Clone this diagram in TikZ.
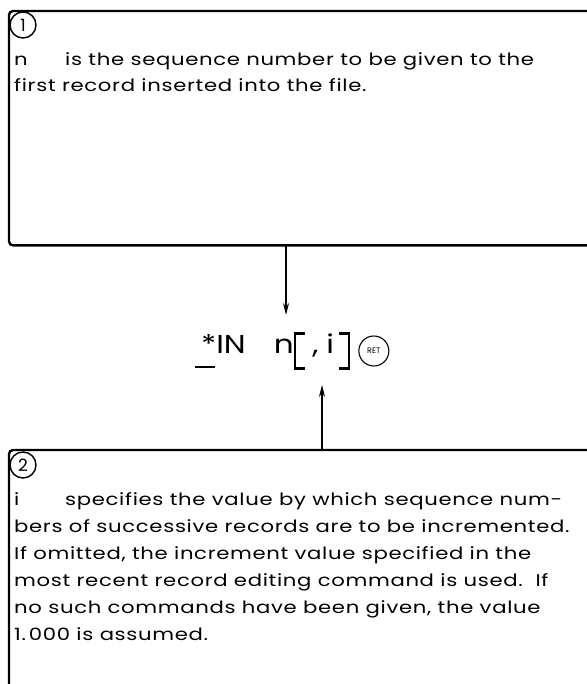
\documentclass[tikz,border=0pt]{standalone}
\usepackage{fontspec}
\setmainfont{Poppins}
\newfontfamily\bodyfont[FakeStretch=1.25,LetterSpace=4]{Poppins}
\newfontfamily\cmdfont[FakeStretch=1.2]{Poppins}
\usetikzlibrary{arrows.meta,positioning}
\newcommand{\cmdopen}{\rlap{\rule[-17bp]{11bp}{2.6bp}}\rlap{\rule[18.4bp]{11bp}{2.6bp}}\rule[-17bp]{2.6bp}{38bp}\hspace{16bp}}
\newcommand{\cmdclose}{\hspace{5bp}\rule[-17bp]{11bp}{2.6bp}\llap{\rule[18.4bp]{11bp}{2.6bp}}\llap{\rule[-17bp]{2.6bp}{38bp}}}

\begin{document}
\begin{tikzpicture}[x=1bp,y=-1bp,
  frame/.style={line width=2.4bp,rounded corners=4bp},
  area/.style={anchor=north west,inner sep=0pt,minimum width=590bp},
  num/.style={circle,draw,line width=1.4bp,fill=white,minimum size=26bp,inner sep=0pt,
              font=\fontsize{17}{17}\selectfont},
  desc/.style={anchor=base west,align=left,inner sep=0pt,font=\fontsize{17}{27}\bodyfont},
  arr/.style={-{Stealth[length=12bp,width=6bp]},line width=1.2bp}
]
\useasboundingbox (0,0) rectangle (587,684);
\node[area,minimum height=234bp] (box1) at (9,11) {};
\node[area,minimum height=250bp] (box2) at (9,450) {};
\draw[frame] (box1.north east) -- (box1.north west) -- (box1.south west) -- (box1.south east);
\draw[frame] (box2.north east) -- (box2.north west) -- (box2.south west);
\node[num] (one) at (23,25) {1};
\node[num] (two) at (23,465) {2};
\node[desc] (defn) at (14,92) {\makebox[51bp][l]{n}is the sequence number to be given to the\\
  first record inserted into the file.};
\node[desc] (defi) at (14,640) {\makebox[51bp][l]{i}specifies the value by which sequence num-\\
  bers of successive records are to be incremented.\\
  If omitted, the increment value specified in the\\
  most recent record editing command is used.\ \ If\\
  no such commands have been given, the value\\
  1.\,000 is assumed.};
\node[anchor=base west,inner sep=0pt,font=\fontsize{26}{26}\cmdfont] (cmd) at (195,353)
  {\rlap{\raisebox{-15bp}{\rule{20bp}{2.2bp}}}\hspace{6bp}*IN\hspace{28bp}n\cmdopen,\hspace{8bp}i\cmdclose};
\node[circle,draw,line width=1.1bp,minimum size=30bp,inner sep=0pt,
      font=\fontsize{8}{8}\selectfont,right=8bp of cmd] (ret) {RET};
\coordinate (ntip) at (286,315);
\coordinate (itip) at (322,385);
\draw[arr] (box1.south -| ntip) -- (ntip);
\draw[arr] (box2.north -| itip) -- (itip);
\end{tikzpicture}
\end{document}
